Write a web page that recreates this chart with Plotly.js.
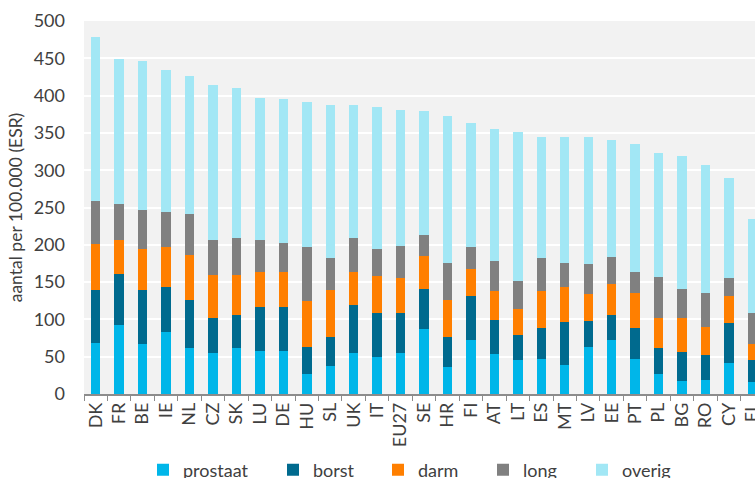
<!DOCTYPE html>
<html>
<head>
<meta charset="utf-8">
<script src="https://cdn.plot.ly/plotly-3.0.1.min.js"></script>
<style>
html,body{margin:0;padding:0;overflow:hidden;background:#fff;}
#chart{width:755px;height:478px;}
</style>
</head>
<body>
<div id="chart"></div>
<script>
const categories = ["DK","FR","BE","IE","NL","CZ","SK","LU","DE","HU","SL","UK","IT","EU27","SE","HR","FI","AT","LT","ES","MT","LV","EE","PT","PL","BG","RO","CY","EL"];
const prostaat = [69,93,67,83,62,55,62,58,57,27,38,55,50,55,87,36,72,54,46,47,39,63,72,47,27,18,19,42,16];
const borst    = [71,68,73,61,64,47,44,59,60,36,38,64,58,54,54,41,60,45,33,42,57,35,34,42,35,38,33,53,30];
const darm     = [61,45,55,53,61,58,54,47,46,62,64,45,50,46,44,49,35,39,35,49,48,36,41,46,40,46,38,37,21];
const long_    = [58,49,51,47,54,47,49,42,40,72,42,45,37,44,28,50,30,40,37,44,31,40,36,29,55,39,46,23,41];
const overig   = [219,194,200,190,185,207,201,191,192,194,206,178,190,182,166,197,166,177,200,163,170,171,158,171,166,178,171,135,127];
const seriesNames = ["prostaat","borst","darm","long","overig"];
const seriesData = [prostaat, borst, darm, long_, overig];
const seriesColors = ["#00b6e9","#006a8e","#ff7f00","#808080","#a2e7f5"];
const legendX = [143, 273, 378, 483, 582];

const font = "Lato, 'Open Sans', sans-serif";
const traces = seriesNames.map((n, i) => ({
  type: "bar",
  name: n,
  x: categories,
  y: seriesData[i],
  marker: {color: seriesColors[i], line: {width: 0}},
  legend: i === 0 ? "legend" : "legend" + (i + 1),
  hoverinfo: "x+y+name"
}));

const layout = {
  width: 755, height: 478,
  margin: {l: 84, r: 0, t: 21, b: 84},
  barmode: "stack",
  bargap: 0.6,
  paper_bgcolor: "#ffffff",
  plot_bgcolor: "#f2f2f2",
  font: {family: font, size: 18, color: "#404040"},
  xaxis: {
    type: "category",
    range: [-0.5, 28.11],
    tickangle: -90,
    ticks: "outside",
    tickson: "boundaries",
    ticklen: 5,
    tickcolor: "#8c8c8c",
    showline: true,
    linecolor: "#8c8c8c",
    linewidth: 1.5,
    showgrid: false,
    tickfont: {family: font, size: 18, color: "#404040"},
    automargin: false,
    fixedrange: true
  },
  yaxis: {
    range: [0, 500],
    dtick: 50,
    tick0: 0,
    showgrid: true,
    gridcolor: "#ffffff",
    gridwidth: 2,
    zeroline: false,
    showline: false,
    ticks: "",
    ticklabelstandoff: 18,
    tickfont: {family: font, size: 18, color: "#404040"},
    title: {text: "aantal per 100.000 (ESR)", font: {family: font, size: 17.5, color: "#404040"}, standoff: 6},
    automargin: false,
    fixedrange: true
  },
  showlegend: true
};
seriesNames.forEach((n, i) => {
  const key = i === 0 ? "legend" : "legend" + (i + 1);
  layout[key] = {
    orientation: "h",
    xref: "container", yref: "container",
    x: legendX[i] / 755, y: 1 - 470 / 478,
    xanchor: "left", yanchor: "middle",
    bgcolor: "rgba(0,0,0,0)",
    borderwidth: 0,
    font: {family: font, size: 18, color: "#404040"},
    itemwidth: 30
  };
});

Plotly.newPlot("chart", traces, layout, {displayModeBar: false, staticPlot: true});
</script>
</body>
</html>
